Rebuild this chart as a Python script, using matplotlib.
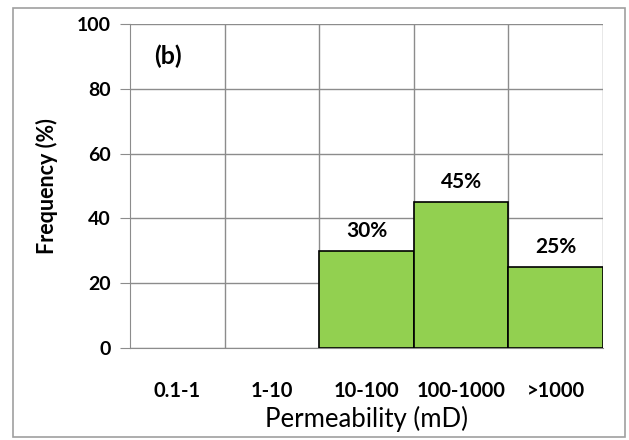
import matplotlib.pyplot as plt
from matplotlib.patches import Rectangle

categories = ['0.1-1', '1-10', '10-100', '100-1000', '>1000']
freq = [0, 0, 30, 45, 25]
labels = ['', '', '30%', '45%', '25%']

plt.rcParams['font.family'] = ['Lato', 'DejaVu Sans']

fig = plt.figure(figsize=(6.29, 4.40), dpi=100)
W, H = 629, 440
ax = fig.add_axes([130 / W, 1 - 348 / H, (603 - 130) / W, (348 - 24) / H])

# outer frame
fig.patches.append(Rectangle((13 / W, 1 - 437 / H), (625 - 13) / W, (437 - 8) / H,
                             transform=fig.transFigure, fill=False,
                             edgecolor='#a0a0a0', linewidth=1.2))

x = list(range(len(categories)))
for xi, v in zip(x, freq):
    if v > 0:
        ax.bar(xi, v, width=1.0, color='#92D050', edgecolor='black', linewidth=1.2, zorder=3)

for xi, v, lab in zip(x, freq, labels):
    if lab:
        ax.text(xi, v + 6.2, lab, ha='center', va='center', fontsize=15, fontweight='bold', zorder=4)

ax.set_xlim(-0.5, 4.5)
ax.set_ylim(0, 100)
ax.set_yticks([0, 20, 40, 60, 80, 100])
ax.set_xticks(x)
ax.set_xticklabels(categories)
ax.grid(axis='y', color='#8c8c8c', linewidth=1.0, zorder=0)
for b in [0.5, 1.5, 2.5, 3.5, 4.5]:
    ax.axvline(b, color='#8c8c8c', linewidth=1.0, zorder=0)

for s in ['top', 'right']:
    ax.spines[s].set_visible(False)
ax.spines['left'].set_color('#8c8c8c')
ax.spines['bottom'].set_color('#8c8c8c')
ax.tick_params(axis='y', length=7, color='#8c8c8c', labelsize=14, pad=7)
ax.tick_params(axis='x', length=0, labelsize=14.5, pad=24)
for t in ax.get_yticklabels() + ax.get_xticklabels():
    t.set_fontweight('bold')

ax.set_ylabel('Frequency (%)', fontsize=15.5, fontweight='bold', labelpad=13)
ax.set_xlabel('Permeability (mD)', fontsize=18.5, labelpad=3)
ax.text(-0.1, 90, '(b)', fontsize=18, fontweight='bold', ha='center', va='center')

fig.savefig('out.png', dpi=100)
